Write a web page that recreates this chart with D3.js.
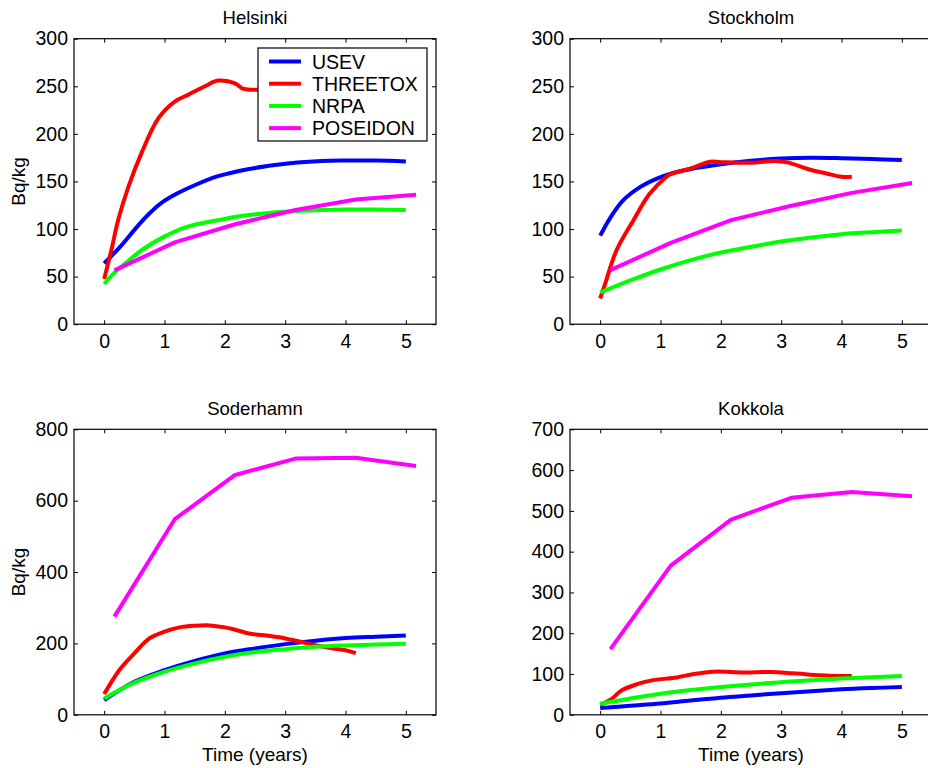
<!DOCTYPE html>
<head>
    <title>Concentration in fish</title>
    <script src="https://d3js.org/d3.v7.min.js"></script>
    <style>
        body { margin: 0; background: #fff; }
        text { font-family: "Liberation Sans", Arial, Helvetica, sans-serif; fill: #000; }
    </style>
</head>
<body>
<div id="home"></div>
<script>
    // model names, in legend order
    const models = ["USEV", "THREETOX", "NRPA", "POSEIDON"];
    const modelColors = ["#0000ff", "#ff0000", "#00ff00", "#ff00ff"];

    const places = ["Helsinki", "Stockholm", "Soderhamn", "Kokkola"];
    const yMax = [300, 300, 800, 700];
    const yStep = [50, 50, 200, 100];
    const xTicks = [0, 1, 2, 3, 4, 5];

    // [time (years), Bq/kg]
    const helsinkiUSEV = [[0,64],[0.26,81],[0.54,102],[0.72,114.5],[0.95,127.5],[1.2,137],[1.5,146],[1.86,155],[2.06,158.4],[2.4,163],[2.83,167.2],[3.2,170],[3.6,171.6],[4,172],[4.5,172],[5,171]];
    const helsinkiTHREETOX = [[0,47.5],[0.12,78],[0.23,109],[0.4,144],[0.62,180],[0.9,216.5],[1.17,234],[1.39,241],[1.67,250],[1.89,256],[2.17,253],[2.3,247.5],[2.44,246.4],[2.7,247]];
    const helsinkiNRPA = [[0,42.3],[0.15,52.8],[0.37,65],[0.65,79],[0.98,91.5],[1.36,102],[1.86,109],[2.3,114],[2.75,117],[3.2,119],[3.6,120],[4,120.5],[4.5,120.5],[5,120]];
    const helsinkiPOSEIDON = [[0.17,56.5],[1.17,86],[2.17,105],[3.17,120],[4.17,131],[5.17,136]];

    const stockholmUSEV = [[0,93],[0.16,111],[0.38,130],[0.66,144],[0.94,153],[1.21,159],[1.5,163],[2,168],[2.5,171.7],[3,174],[3.5,175],[4,174.5],[4.5,173.5],[5,172.5]];
    const stockholmTHREETOX = [[0,27],[0.08,42],[0.27,77.5],[0.55,109],[0.82,137],[1.1,155],[1.16,157.4],[1.5,163.7],[1.82,170.8],[2,170.3],[2.5,169.6],[2.9,171.4],[3.1,170],[3.5,162],[3.75,158.4],[4,155],[4.17,155]];
    const stockholmNRPA = [[0,33.3],[0.5,46],[1,57.5],[1.5,67.3],[2,75.4],[2.5,81.3],[3,87],[3.5,91],[4,94.6],[4.5,96.7],[5,98.5]];
    const stockholmPOSEIDON = [[0.17,56.8],[1.17,85.5],[2.17,109.4],[3.17,124.4],[4.17,138],[5.17,148.3]];

    const soderhamnUSEV = [[0,41],[0.5,92.5],[1,125],[1.5,151],[2,172],[2.5,186],[3,198],[3.5,207.5],[4,215],[4.5,219],[5,222.4]];
    const soderhamnTHREETOX = [[0,58],[0.25,125],[0.5,172],[0.75,214],[1,233],[1.25,245],[1.5,249.5],[1.75,250.5],[2,245],[2.2,237],[2.4,228],[2.75,220.6],[3,214],[3.25,204.7],[3.5,195],[3.75,187],[4,181],[4.17,173]];
    const soderhamnNRPA = [[0,46],[0.5,90],[1,120.6],[1.5,144],[2,162.6],[2.5,175.7],[3,184],[3.5,190.6],[4,194.4],[4.5,197],[5,199]];
    const soderhamnPOSEIDON = [[0.17,275],[1.17,548],[2.17,672],[3.17,718],[4.17,720],[5.17,697]];

    const kokkolaUSEV = [[0,16.5],[0.5,22],[1,27.5],[1.5,35],[2,42],[2.5,47.5],[3,53],[3.5,58],[4,62.5],[4.5,65.6],[5,68]];
    const kokkolaTHREETOX = [[0,25],[0.17,37],[0.36,60],[0.61,75],[0.88,85],[1.27,91.7],[1.55,100],[1.88,105.8],[2.38,104],[2.82,105],[3.2,101.6],[3.65,96.7],[3.92,95],[4.17,95]];
    const kokkolaNRPA = [[0,27],[0.5,40],[1,51.5],[1.5,60.6],[2,68],[2.5,74.5],[3,80],[3.5,85],[4,89],[4.5,92],[5,95]];
    const kokkolaPOSEIDON = [[0.17,161],[1.17,365.6],[2.17,478.7],[3.17,532],[4.17,546],[5.17,536]];

    const series = [
        [helsinkiUSEV, helsinkiTHREETOX, helsinkiNRPA, helsinkiPOSEIDON],
        [stockholmUSEV, stockholmTHREETOX, stockholmNRPA, stockholmPOSEIDON],
        [soderhamnUSEV, soderhamnTHREETOX, soderhamnNRPA, soderhamnPOSEIDON],
        [kokkolaUSEV, kokkolaTHREETOX, kokkolaNRPA, kokkolaPOSEIDON]
    ];

    const W = 928, H = 768;
    const pw = 362, ph = 285.5;
    const lefts = [74, 570];
    const tops = [38.7, 429.3];
    const tickFs = "19.5px", titleFs = "18.5px", labelFs = "19px";

    const svg = d3.select("#home").append("svg")
        .attr("width", W)
        .attr("height", H);

    places.forEach(function(place, i) {
        const col = i % 2, row = Math.floor(i / 2);
        const g = svg.append("g")
            .attr("transform", "translate(" + lefts[col] + "," + tops[row] + ")");

        const x = d3.scaleLinear().domain([-0.5, 5.5]).range([0, pw]);
        const y = d3.scaleLinear().domain([0, yMax[i]]).range([ph, 0]);
        const yTicks = d3.range(0, yMax[i] + 1, yStep[i]);

        // axes with inward ticks on all four sides
        const ax = [
            [d3.axisBottom(x).tickValues(xTicks).tickFormat(d3.format("d")), "translate(0," + ph + ")"],
            [d3.axisTop(x).tickValues(xTicks).tickFormat(""), "translate(0,0)"],
            [d3.axisLeft(y).tickValues(yTicks).tickFormat(d3.format("d")), "translate(0,0)"],
            [d3.axisRight(y).tickValues(yTicks).tickFormat(""), "translate(" + pw + ",0)"]
        ];
        ax.forEach(function(a, k) {
            const axis = a[0].tickSizeInner(-4).tickSizeOuter(0).tickPadding(k == 0 ? 9.5 : 6);
            const ga = g.append("g").attr("transform", a[1]).call(axis);
            ga.select(".domain").remove();
            ga.selectAll("line").attr("stroke", "#000");
            ga.selectAll("text")
              .style("font-size", tickFs)
              .attr("fill", "#000")
              .style("font-family", '"Liberation Sans", Arial, sans-serif');
        });

        // model curves (POSEIDON is yearly points joined by straight lines)
        series[i].forEach(function(d, k) {
            const line = d3.line()
                .x(p => x(p[0]))
                .y(p => y(p[1]))
                .curve(models[k] == "POSEIDON" ? d3.curveLinear : d3.curveCatmullRom.alpha(0.5));
            g.append("path")
                .datum(d)
                .attr("d", line)
                .attr("fill", "none")
                .attr("stroke", modelColors[k])
                .attr("stroke-width", 4)
                .attr("stroke-linejoin", "round");
        });

        g.append("rect")
            .attr("width", pw)
            .attr("height", ph)
            .attr("fill", "none")
            .attr("stroke", "#000")
            .attr("stroke-width", 1.2);

        g.append("text")
            .attr("x", pw / 2)
            .attr("y", -14.7)
            .attr("text-anchor", "middle")
            .style("font-size", titleFs)
            .text(place);

        if (col == 0) {
            svg.append("text")
                .attr("transform", "translate(25," + (tops[row] + ph / 2) + ") rotate(-90)")
                .attr("text-anchor", "middle")
                .style("font-size", labelFs)
                .text("Bq/kg");
        }
        if (row == 1) {
            g.append("text")
                .attr("x", pw / 2)
                .attr("y", 761 - tops[row])
                .attr("text-anchor", "middle")
                .style("font-size", labelFs)
                .text("Time (years)");
        }

        // legend only in the first panel
        if (i == 0) {
            const lg = svg.append("g").attr("transform", "translate(258,48)");
            lg.append("rect")
                .attr("width", 169)
                .attr("height", 93)
                .attr("fill", "#fff")
                .attr("stroke", "#000")
                .attr("stroke-width", 1.2);
            models.forEach(function(m, k) {
                const ly = 13.5 + k * 22.2;
                lg.append("line")
                    .attr("x1", 11).attr("x2", 43)
                    .attr("y1", ly).attr("y2", ly)
                    .attr("stroke", modelColors[k])
                    .attr("stroke-width", 4);
                lg.append("text")
                    .attr("x", 54)
                    .attr("y", ly + 7)
                    .style("font-size", tickFs)
                    .text(m);
            });
        }
    });
</script>
</body>
